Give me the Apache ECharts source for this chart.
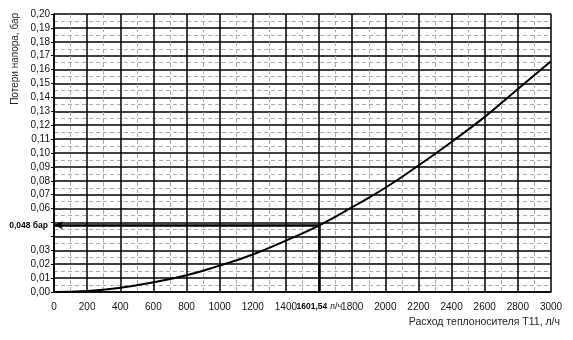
<!DOCTYPE html>
<html>
<head>
<meta charset="utf-8">
<script src="https://cdn.jsdelivr.net/npm/echarts@6/dist/echarts.min.js"></script>
<style>
html,body{margin:0;padding:0;background:#fff;}
#chart{width:573px;height:340px;}
</style>
</head>
<body>
<div id="chart"></div>
<script>
// Flow rate, l/h
const flowRates = [0, 200, 400, 600, 800, 1000, 1200, 1400, 1601.54, 1800, 2000, 2200, 2400, 2600, 2800, 3000];
// Pressure loss, bar
const pressureLoss = [0, 0.0007, 0.003, 0.007, 0.012, 0.019, 0.027, 0.037, 0.048, 0.061, 0.075, 0.091, 0.108, 0.126, 0.146, 0.166];
// Operating point
const opFlow = 1601.54;
const opLoss = 0.048;
const opFlowLabel = '1601,54';
const opLossLabel = '0,048 бар';
const xName = 'Расход теплоносителя Т11, л/ч';
const yName = 'Потери напора, бар';

const FONT = 'Liberation Sans, Arial, sans-serif';
const chart = echarts.init(document.getElementById('chart'), null, {renderer: 'canvas'});

chart.setOption({
  animation: false,
  backgroundColor: '#fff',
  grid: {left: 54, right: 22, top: 14, bottom: 48},
  xAxis: {
    type: 'value', min: 0, max: 3000, interval: 200,
    axisLine: {show: true, lineStyle: {color: '#000', width: 1.5}},
    axisTick: {show: false},
    axisLabel: {
      fontFamily: FONT, fontSize: 10, color: '#111', margin: 10,
      formatter: v => (v === 1600 ? '' : String(v))
    },
    splitLine: {show: true, lineStyle: {color: '#000', width: 1.5}},
    minorTick: {show: false, splitNumber: 2},
    minorSplitLine: {show: true, lineStyle: {color: '#aaa', width: 1, type: [4, 3]}}
  },
  yAxis: {
    type: 'value', min: 0, max: 0.2, interval: 0.01,
    axisLine: {show: true, lineStyle: {color: '#000', width: 1.5}},
    axisTick: {show: true, length: 3, lineStyle: {color: '#000'}},
    axisLabel: {
      fontFamily: FONT, fontSize: 10, color: '#111', margin: 4,
      formatter: v => {
        const r = Math.round(v * 100);
        if (r === 4 || r === 5) return '';
        return (r / 100).toFixed(2).replace('.', ',');
      }
    },
    splitLine: {show: true, lineStyle: {color: '#000', width: 1.5}},
    minorTick: {show: false, splitNumber: 2},
    minorSplitLine: {show: true, lineStyle: {color: '#aaa', width: 1, type: [4, 3]}}
  },
  graphic: [
    {
      type: 'text', x: 15, y: 13, rotation: Math.PI / 2,
      style: {text: yName, fontFamily: FONT, fontSize: 10, fill: '#222', align: 'right', verticalAlign: 'middle'}
    },
    {
      type: 'text', x: 560, y: 322,
      style: {text: xName, fontFamily: FONT, fontSize: 10.5, fill: '#222', align: 'right', verticalAlign: 'middle'}
    }
  ],
  series: [{
    type: 'line',
    data: flowRates.map((x, i) => [x, pressureLoss[i]]),
    smooth: true,
    showSymbol: false,
    lineStyle: {color: '#000', width: 2},
    markLine: {
      silent: true,
      animation: false,
      lineStyle: {color: '#000', width: 2.5, type: 'solid'},
      data: [
        [
          {coord: [0, opLoss], symbol: 'arrow', symbolSize: [6, 9],
           label: {show: true, position: 'start', distance: 6, formatter: opLossLabel,
                   fontFamily: FONT, fontSize: 8.5, fontWeight: 'bold', color: '#000'}},
          {coord: [opFlow, opLoss], symbol: 'none'}
        ],
        [
          {coord: [opFlow, opLoss], symbol: 'none'},
          {coord: [opFlow, 0], symbol: 'none',
           label: {show: true, position: 'end', distance: 10,
                   formatter: '{b|' + opFlowLabel + '}{n| л/ч}',
                   rich: {
                     b: {fontFamily: FONT, fontSize: 8.5, fontWeight: 'bold', color: '#000'},
                     n: {fontFamily: FONT, fontSize: 9, color: '#111'}
                   }}}
        ]
      ]
    }
  }]
});
</script>
</body>
</html>
